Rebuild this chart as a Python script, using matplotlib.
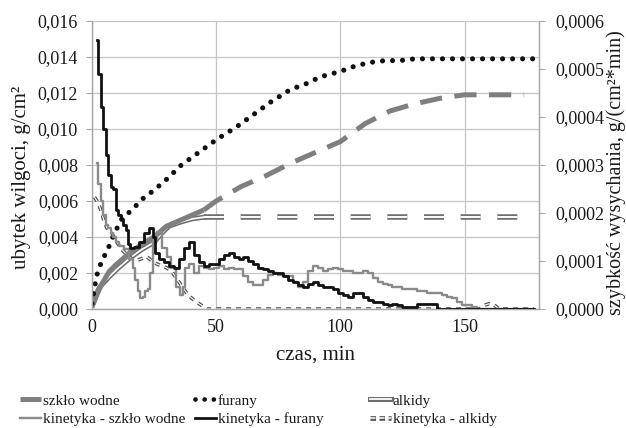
import numpy as np
import matplotlib
matplotlib.use("Agg")
import matplotlib.pyplot as plt
from matplotlib.lines import Line2D
from matplotlib.ticker import FuncFormatter

plt.rcParams['font.family'] = ['Liberation Serif', 'DejaVu Serif']
plt.rcParams['lines.scale_dashes'] = False

# ---------------- data ----------------
# cumulative moisture loss, g/cm2 (left axis)
szklo_t = [0, 2, 4, 7, 10, 15, 20, 25, 30, 35, 40, 45, 50, 55, 60, 70, 80, 90,
           100, 105, 110, 120, 130, 140, 150, 160, 174]
szklo_v = [0.0001, 0.0008, 0.0014, 0.0021, 0.0025, 0.0031, 0.0036, 0.0040, 0.0046,
           0.0049, 0.0052, 0.0055, 0.0060, 0.0064, 0.0068, 0.0074, 0.0081, 0.0087,
           0.0093, 0.0098, 0.0103, 0.0110, 0.0114, 0.0117, 0.0119, 0.0119, 0.0119]

furany_t = [0, 1, 2, 4, 6, 9, 12, 16, 21, 25, 30, 36, 42, 50, 58, 65, 72, 80, 86,
            92, 100, 106, 112, 118, 124, 130, 137, 150, 165, 179]
furany_v = [0.0003, 0.0012, 0.0019, 0.0027, 0.0032, 0.0042, 0.0050, 0.0055, 0.0062,
            0.0066, 0.0072, 0.0080, 0.0086, 0.0094, 0.0101, 0.0108, 0.0115, 0.0122,
            0.0125, 0.0129, 0.0132, 0.0135, 0.0137, 0.0138, 0.0138, 0.0139, 0.0139,
            0.0139, 0.0139, 0.0139]

alkidy_t = [0, 1, 2, 3, 5, 7, 10, 15, 20, 25, 28, 31, 35, 40, 45, 60, 80, 100,
            120, 140, 160, 178]
alkidy_v = [0.0002, 0.0005, 0.0009, 0.0012, 0.0015, 0.0018, 0.0022, 0.0028, 0.0033,
            0.0037, 0.0042, 0.0046, 0.0048, 0.0050, 0.0051, 0.0051, 0.0051, 0.0051,
            0.0051, 0.0051, 0.0051, 0.0051]

# drying rate, g/(cm2*min) (right axis), values in 1e-5 units
kin_szklo_t = [2, 3, 4, 5, 6, 7, 8, 9, 10, 12, 14, 16, 17, 18, 19, 20, 21, 22, 23,
               24, 25, 27, 29, 31, 33, 35, 36, 37, 38, 40, 42, 44, 46, 48, 50, 52,
               54, 56, 58, 60, 62, 64, 66, 68, 70, 72, 74, 76, 78, 80, 82, 84, 86,
               88, 90, 92, 94, 96, 98, 100, 102, 104, 106, 108, 110, 112, 114, 116,
               118, 120, 122, 124, 126, 128, 130, 132, 134, 136, 138, 140, 142, 144,
               146, 148, 150, 152, 154, 156, 165, 178]
kin_szklo_v = [30.4, 26, 22.5, 19.5, 17.6, 16.9, 15.8, 15, 13.9, 13.1, 12.4, 10.5,
               8.6, 6, 3.8, 2.3, 2.6, 3.8, 4.1, 7.5, 14.3, 16.1, 12.8, 10.9, 8.6, 4.5,
               3, 4.5, 8.6, 9.4, 7.5, 9, 8.6, 8.3, 8.6, 9, 8.3, 8.6, 8.3, 8.3, 6.8,
               5.6, 4.9, 4.9, 6, 7.1, 7.5, 7.1, 6.8, 6.8, 5.6, 4.5, 5.6, 7.9, 9, 8.6,
               7.9, 8.3, 8.6, 8.3, 7.9, 7.9, 7.5, 7.5, 7.9, 7.5, 6.4, 5.6, 5.3, 4.9,
               4.5, 4.5, 4.1, 4.1, 4.1, 3.8, 3.8, 3.4, 3.4, 3.4, 3, 2.6, 2.3, 1.5,
               0.8, 0.8, 0.4, 0, 0, 0]

kin_furany_t = [2, 3, 4, 5, 6, 7, 8, 9, 10, 11, 12, 13, 14, 15, 16, 18, 20, 22, 24,
                25, 26, 28, 30, 32, 34, 36, 38, 40, 42, 44, 46, 48, 50, 52, 54, 56,
                58, 60, 62, 64, 66, 68, 70, 72, 74, 76, 78, 80, 82, 84, 86, 88, 90,
                92, 94, 96, 98, 100, 102, 104, 106, 108, 110, 112, 114, 116, 118,
                120, 122, 124, 126, 128, 130, 132, 134, 136, 138, 140, 150, 160, 170,
                178]
kin_furany_v = [56, 49, 42, 37.5, 32, 28, 25.5, 25, 20.6, 19.5, 18.8, 17.6, 16.5,
                13.5, 12.8, 13, 14, 15.8, 16.9, 15, 11.6, 10.5, 9.8, 9, 8.6, 10.5,
                12.8, 13.9, 11.3, 9.8, 9, 9.4, 9.4, 10.5, 11.3, 11.6, 10.9, 10.5,
                10.9, 10.1, 9.4, 8.6, 8.3, 7.9, 7.5, 7.5, 6.8, 6, 5.6, 4.9, 4.5, 5.3,
                5.6, 4.9, 4.5, 4.5, 4.1, 3.4, 3, 2.6, 3.4, 3.4, 2.6, 1.9, 1.5, 1.5,
                1.1, 0.8, 1.1, 0.8, 0.4, 0.4, 0.4, 1.1, 1.1, 1.1, 1.1, 0, 0, 0, 0, 0]

kin_alkidy_t = [1, 2, 3, 4, 5, 6, 8, 10, 12, 14, 16, 18, 20, 22, 24, 26, 28, 30, 32,
                34, 36, 38, 40, 42, 44, 46, 60, 80, 100, 120, 140, 156, 158, 160,
                162, 164, 178]
kin_alkidy_v = [23.3, 22.5, 21.4, 19.9, 18, 16.9, 15.8, 13.9, 12.4, 11.3, 10.5, 10.1,
                10.5, 10.9, 10.1, 9.4, 9, 8.6, 7.9, 6.4, 4.9, 3.4, 2.3, 1.5, 0.8, 0,
                0, 0, 0, 0, 0, 0, 0.8, 1.1, 0.8, 0, 0]

x_ticks = [0, 50, 100, 150]
left_ticks = [0.000, 0.002, 0.004, 0.006, 0.008, 0.010, 0.012, 0.014, 0.016]
right_ticks = [0.0, 0.0001, 0.0002, 0.0003, 0.0004, 0.0005, 0.0006]
labels = ["szkło wodne", "furany", "alkidy",
          "kinetyka - szkło wodne", "kinetyka - furany", "kinetyka - alkidy"]

# ---------------- styles ----------------
TXT = '#1a1a1a'
GRAY_THICK = '#7f7f7f'
GRAY_THIN = '#8a8a8a'
DBL_OUT = '#6e6e6e'
BLACK = '#111111'
SPLIT = 45

W, H = 626, 428
fig = plt.figure(figsize=(W / 100, H / 100), dpi=100)
L, R, T, B = 92, 539, 21, 309
ax = fig.add_axes([L / W, 1 - B / H, (R - L) / W, (B - T) / H])
ax2 = ax.twinx()

ax.set_xlim(0, 180)
ax.set_ylim(0, 0.016)
ax2.set_ylim(0, 0.0006)

ax.set_xticks(x_ticks)
ax.set_yticks(left_ticks)
ax2.set_yticks(right_ticks)
ax.yaxis.set_major_formatter(FuncFormatter(lambda v, p: f"{v:.3f}".replace('.', ',')))
ax2.yaxis.set_major_formatter(FuncFormatter(lambda v, p: f"{v:.4f}".replace('.', ',')))
ax.xaxis.set_major_formatter(FuncFormatter(lambda v, p: f"{v:.0f}"))

ax.grid(True, color='#c6c6c6', lw=0.9)
ax.set_axisbelow(True)
for a in (ax, ax2):
    for s in a.spines.values():
        s.set_color('#a8a8a8')
        s.set_linewidth(0.9)
    a.spines['top'].set_visible(False)
ax.tick_params(axis='both', colors='#a8a8a8', labelcolor=TXT, labelsize=13,
               length=4, width=0.8)
ax.tick_params(axis='y', pad=6)
ax.tick_params(axis='x', length=0, pad=7)
ax2.tick_params(axis='y', colors='#a8a8a8', labelcolor=TXT, labelsize=13,
                length=4, width=0.8, pad=8)


def split(t, v, solid=True):
    t = np.asarray(t, float)
    v = np.asarray(v, float)
    m = t <= SPLIT if solid else t >= SPLIT
    return t[m], v[m]


# alkidy: double line
ts, vs = split(alkidy_t, alkidy_v, True)
ax.plot(ts, vs, color=DBL_OUT, lw=3.6, zorder=3)
ax.plot(ts, vs, color='white', lw=1.3, zorder=3)
ts, vs = split(alkidy_t, alkidy_v, False)
ax.plot(ts, vs, color=DBL_OUT, lw=4.0, ls=(0, (14.4, 12)), zorder=3)
ax.plot(ts, vs, color='white', lw=1.4, ls=(0, (14.4, 12)), zorder=3)

# szkło wodne: thick gray (solid early, long dashes later)
ts, vs = split(szklo_t, szklo_v, True)
ax.plot(ts, vs, color=GRAY_THICK, lw=3.6, solid_capstyle='butt', zorder=3)
ts, vs = split(szklo_t, szklo_v, False)
ax.plot(ts, vs, color=GRAY_THICK, lw=3.6, ls=(0, (16, 9)), dash_capstyle='butt',
        zorder=3)

# furany: round dots
ax.plot(furany_t, furany_v, color=BLACK, lw=3.7, ls=(0, (0.01, 7.2)),
        dash_capstyle='round', zorder=4)

# kinetics on right axis
scale = 1e-5
ax2.plot(kin_alkidy_t, np.asarray(kin_alkidy_v) * scale, color='#555555', lw=2.6,
         ls=(0, (3.6, 3.6)), zorder=2)
ax2.plot(kin_alkidy_t, np.asarray(kin_alkidy_v) * scale, color='white', lw=0.8,
         ls=(0, (3.6, 3.6)), zorder=2)
ax2.plot(kin_szklo_t, np.asarray(kin_szklo_v) * scale, color=GRAY_THIN, lw=1.7,
         drawstyle='steps-mid', zorder=3)
ax2.plot(kin_furany_t, np.asarray(kin_furany_v) * scale, color=BLACK, lw=2.0,
         drawstyle='steps-mid', zorder=4)

# axis labels
fig.text(315 / W, 1 - 355 / H, "czas, min", ha='center', va='center', fontsize=15,
         color=TXT)
fig.text(22 / W, 1 - 177 / H, "ubytek wilgoci, g/cm²", ha='center', va='center',
         rotation=90, fontsize=15, color=TXT)
fig.text(616 / W, 1 - 173 / H, "szybkość wysychania, g/(cm²*min)", ha='center',
         va='center', rotation=90, fontsize=14.5, color=TXT)

# legend (three columns)
h_szklo = Line2D([], [], color=GRAY_THICK, lw=3.6, solid_capstyle='butt')
h_furany = Line2D([], [], color=BLACK, lw=3.4, ls=(0, (0.01, 6.6)),
                  dash_capstyle='round')
h_alkidy = (Line2D([], [], color=DBL_OUT, lw=3.6), Line2D([], [], color='white', lw=1.3))
h_kszklo = Line2D([], [], color=GRAY_THIN, lw=1.7)
h_kfurany = Line2D([], [], color=BLACK, lw=2.0)
h_kalkidy = (Line2D([], [], color='#555555', lw=3.4, ls=(0, (4, 2.5))),
             Line2D([], [], color='white', lw=1.1, ls=(0, (4, 2.5))))

cols = [([h_szklo, h_kszklo], [labels[0], labels[3]], 20),
        ([h_furany, h_kfurany], [labels[1], labels[4]], 195),
        ([h_alkidy, h_kalkidy], [labels[2], labels[5]], 370)]
for hs, ls_, x0 in cols:
    fig.legend(hs, ls_, loc='upper left', bbox_to_anchor=(x0 / W, 1 - 394 / H),
               frameon=False, fontsize=11, handlelength=1.4, handletextpad=0.1,
               borderpad=0, borderaxespad=0, labelspacing=0.3,
               labelcolor=TXT)

fig.savefig("out.png", dpi=100)
